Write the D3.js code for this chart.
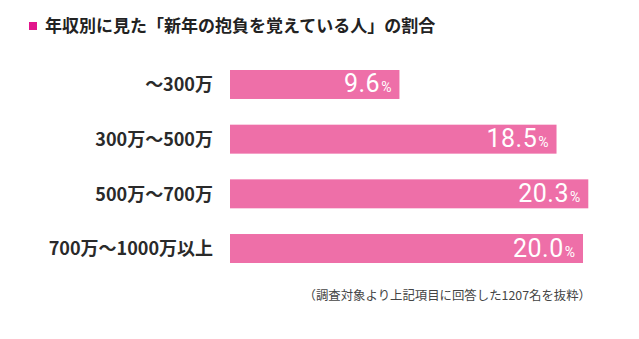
<!DOCTYPE html>
<html>
<head>
<meta charset="utf-8">
<script src="https://cdn.jsdelivr.net/npm/d3@7"></script>
<style>
  html, body { margin: 0; padding: 0; background: #fff; }
  svg { display: block; }
</style>
</head>
<body>
<script>
// 年収区分と「新年の抱負を覚えている人」の割合(%)
const categories = ["～300万", "300万～500万", "500万～700万", "700万～1000万以上"];
const values = [9.6, 18.5, 20.3, 20.0];
const titleText = "年収別に見た「新年の抱負を覚えている人」の割合";
const noteText = "（調査対象より上記項目に回答した1207名を抜粋）";

const W = 639, H = 339;
const svg = d3.select("body").append("svg").attr("width", W).attr("height", H);

const jpFont = "'Noto Sans CJK JP', 'Noto Sans', sans-serif";
const numFont = "'Roboto', 'Noto Sans', sans-serif";

// Title with marker square
svg.append("rect")
  .attr("x", 29).attr("y", 22).attr("width", 8).attr("height", 8)
  .attr("fill", "#e2168c");
svg.append("text")
  .attr("x", 45).attr("y", 32)
  .attr("font-family", jpFont).attr("font-weight", 700)
  .attr("font-size", 17).attr("fill", "#222")
  .text(titleText);

// Scales
const x = d3.scaleLinear().domain([0, 20]).range([230, 230 + 353]);
const y = d3.scaleBand().domain(categories).range([70, 263]).paddingInner(0.47).paddingOuter(0);

// Bars
svg.append("g").selectAll("rect")
  .data(values)
  .join("rect")
  .attr("x", x(0))
  .attr("y", (d, i) => y(categories[i]))
  .attr("width", d => x(d) - x(0))
  .attr("height", y.bandwidth())
  .attr("fill", "#ee6fa8");

// Category labels
svg.append("g").selectAll("text")
  .data(categories)
  .join("text")
  .attr("x", 213)
  .attr("y", d => y(d) + y.bandwidth() / 2)
  .attr("dy", "0.38em")
  .attr("text-anchor", "end")
  .attr("font-family", jpFont).attr("font-weight", 700)
  .attr("font-size", 18).attr("fill", "#2a2a2a")
  .text(d => d);

// Value labels inside bar ends
const vl = svg.append("g").selectAll("text")
  .data(values)
  .join("text")
  .attr("x", d => x(d) - 8)
  .attr("y", (d, i) => y(categories[i]) + y.bandwidth() / 2 + 8)
  .attr("text-anchor", "end")
  .attr("font-family", numFont)
  .attr("font-weight", 400)
  .attr("fill", "#fff");
vl.append("tspan").attr("font-size", 25).attr("letter-spacing", 0.5).text(d => d.toFixed(1));
vl.append("tspan").attr("font-size", 14).attr("dx", 1).text("%");

// Footnote
svg.append("text")
  .attr("x", 591).attr("y", 300)
  .attr("text-anchor", "end")
  .attr("font-family", jpFont)
  .attr("font-size", 12.4).attr("fill", "#444")
  .text(noteText);
</script>
</body>
</html>
